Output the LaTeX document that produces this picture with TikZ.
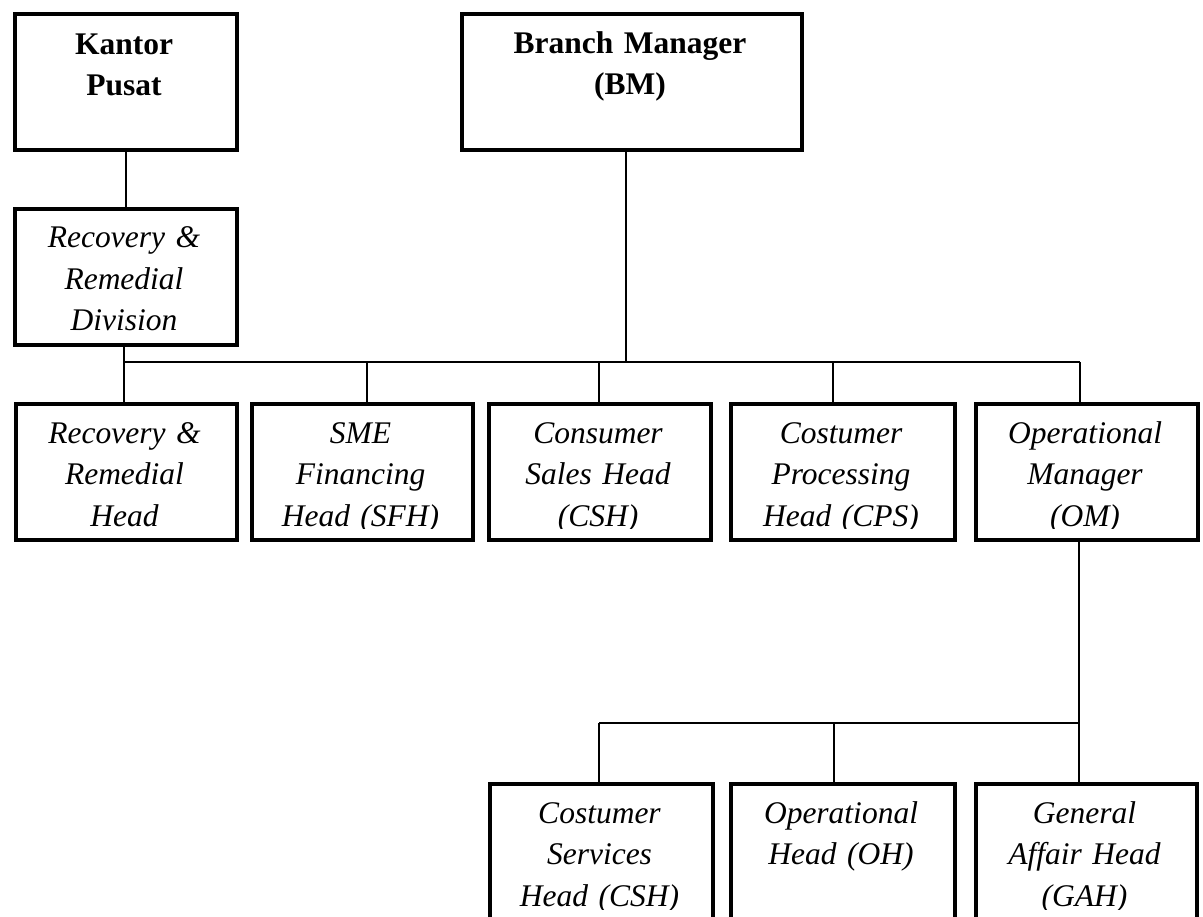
\documentclass[tikz,border=0pt]{standalone}
\usepackage{fontspec}
\setmainfont{Liberation Serif}
\tikzset{
  box/.style={draw=black, line width=4pt, rectangle, inner sep=0pt, fill=white},
  lbl/.style={inner sep=0pt, align=center, font=\fontsize{31.5}{42}\selectfont},
  blbl/.style={lbl, font=\fontsize{31.5}{40.5}\selectfont\bfseries},
  ilbl/.style={lbl, font=\fontsize{31.5}{41.5}\selectfont\itshape},
  conn/.style={draw=black, line width=1.5pt},
}
\newcommand\obox[8]{%
  \pgfmathsetmacro\ow{#4-#2}%
  \pgfmathsetmacro\oh{#5-#3}%
  \pgfmathsetmacro\oc{(#2+#4)/2}%
  \pgfmathsetmacro\ob{#3+#7}%
  \pgfmathsetmacro\otw{#4-#2-6}%
  \node[box, minimum width=\ow pt, minimum height=\oh pt, anchor=north west] (#1) at (#2,#3) {};
  \begin{scope}
    \clip (#2+2,#3+2) rectangle (#4-2,#5-10);
    \node[#6, text width=\otw pt, anchor=base] (#1-t) at (\oc,\ob) {#8};
  \end{scope}}
\begin{document}
\begin{tikzpicture}[x=1pt, y=-1pt]
\useasboundingbox[fill=white] (0,0) rectangle (1203,917);
\coordinate (busL) at (124,362);
\coordinate (busR) at (1080,362);
\coordinate (bmj) at (626,362);
\coordinate (j2) at (367,362);
\coordinate (j3) at (599,362);
\coordinate (j4) at (833,362);
\coordinate (k1) at (599,723);
\coordinate (k2) at (834,723);
\coordinate (k3) at (1079,723);
% top row
\obox{kp}{13}{12}{235}{148}{blbl}{43}{Kantor\\Pusat}
\obox{bm}{460}{12}{800}{148}{blbl}{42}{Branch Manager\\(BM)}
\obox{rrd}{13}{207}{235}{343}{ilbl}{41}{Recovery \&\\Remedial\\Division}
% second row
\obox{rrh}{14}{402}{235}{538}{ilbl}{41}{Recovery \&\\Remedial\\Head}
\obox{sfh}{250}{402}{471}{538}{ilbl}{41}{SME\\Financing\\Head (SFH)}
\obox{csh}{487}{402}{709}{538}{ilbl}{41}{Consumer\\Sales Head\\(CSH)}
\obox{cps}{729}{402}{953}{538}{ilbl}{41}{Costumer\\Processing\\Head (CPS)}
\obox{om}{974}{402}{1196}{538}{ilbl}{41}{Operational\\Manager\\(OM)}
% third row
\obox{csb}{488}{782}{711}{919}{ilbl}{41}{Costumer\\Services\\Head (CSH)}
\obox{oh}{729}{782}{953}{919}{ilbl}{41}{Operational\\Head (OH)}
\obox{gah}{974}{782}{1195}{919}{ilbl}{41}{General\\Affair Head\\(GAH)}
% connectors
\draw[conn] (kp.south) -- (kp.south |- rrd.north);
\draw[conn] (bmj |- bm.south) -- (bmj);
\draw[conn] (busL) -- (busR);
\draw[conn] (busL |- rrd.south) -- (busL |- rrh.north);
\draw[conn] (j2) -- (j2 |- sfh.north);
\draw[conn] (j3) -- (j3 |- csh.north);
\draw[conn] (j4) -- (j4 |- cps.north);
\draw[conn] (busR) -- (busR |- om.north);
\draw[conn] (k3 |- om.south) -- (k3 |- gah.north);
\draw[conn] (k1) -- (k3);
\draw[conn] (k1) -- (k1 |- csb.north);
\draw[conn] (k2) -- (k2 |- oh.north);
\end{tikzpicture}
\end{document}
